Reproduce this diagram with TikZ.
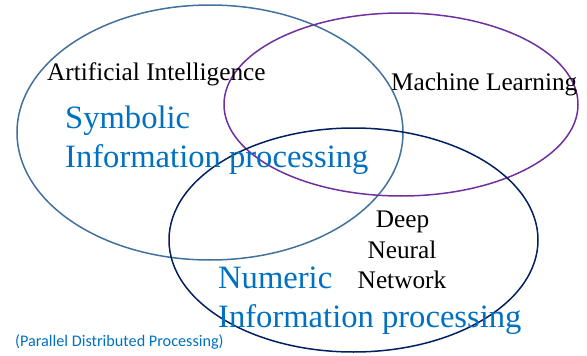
\documentclass[tikz,border=0pt]{standalone}
\usepackage{fontspec}
\setmainfont{Liberation Serif}
\newfontfamily\calib{Carlito}
\definecolor{aiblue}{HTML}{41719C}
\definecolor{mlpurple}{HTML}{7030A0}
\definecolor{dnnavy}{HTML}{002060}
\definecolor{txtblue}{HTML}{0070C0}
\tikzset{
  setline/.style={line width=1.5pt},
  bigblue/.style={anchor=base west, inner sep=0pt, text=txtblue, font=\fontsize{32.6}{38}\selectfont},
  blacklbl/.style={inner sep=0pt, text=black, font=\fontsize{25.3}{30}\selectfont},
  smallnote/.style={anchor=base west, inner sep=0pt, text=txtblue, font=\calib\fontsize{16.2}{19}\selectfont}
}
\begin{document}
\begin{tikzpicture}[x=1pt,y=-1pt]
\useasboundingbox (0,0) rectangle (587,356);
\coordinate (cai) at (210,132.5);
\coordinate (cml) at (401,104.5);
\coordinate (cdn) at (353.5,240);
\draw[setline, aiblue] (cai) ellipse [x radius=193, y radius=127.5];
\draw[setline, mlpurple] (cml) ellipse [x radius=177, y radius=91.5];
\draw[setline, dnnavy] (cdn) ellipse [x radius=184.5, y radius=112];
\node[blacklbl, anchor=base west] (ai) at (47,80.5) {Artificial Intelligence};
\node[bigblue] (sym1) at (65,128) {Symbolic};
\node[bigblue] (sym2) at (65,167) {Information processing};
\node[blacklbl, anchor=base west] (ml) at (391,90) {Machine Learning};
\node[blacklbl, anchor=base] (dnn1) at (402.5,227) {Deep};
\node[blacklbl, anchor=base] (dnn2) at (402,258) {Neural};
\node[blacklbl, anchor=base] (dnn3) at (402,288) {Network};
\node[bigblue] (num1) at (218,288) {Numeric};
\node[bigblue] (num2) at (218,327) {Information processing};
\node[smallnote] (pdp) at (15,346) {(Parallel Distributed Processing)};
\end{tikzpicture}
\end{document}
